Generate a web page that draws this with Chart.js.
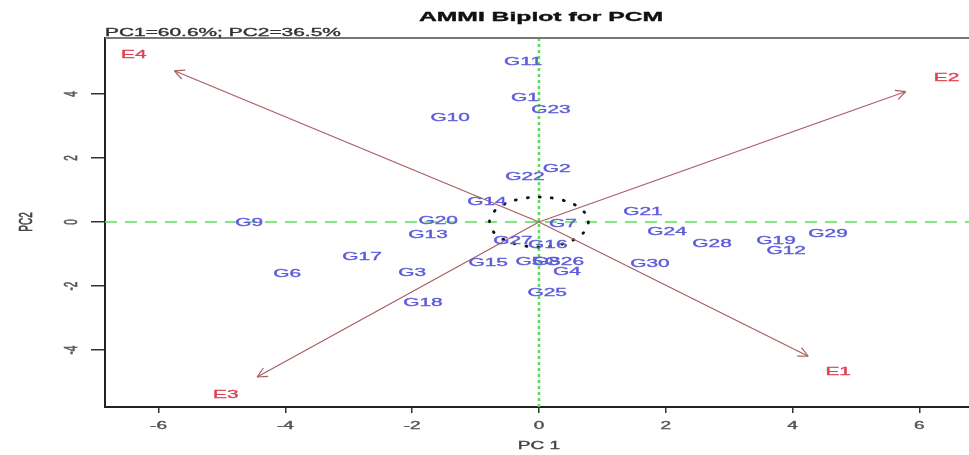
<!DOCTYPE html>
<html>
<head>
<meta charset="utf-8">
<script src="https://cdn.jsdelivr.net/npm/chart.js@4.4.0/dist/chart.umd.min.js"></script>
<style>
  html, body { margin: 0; padding: 0; overflow: hidden; background: #fff; }
</style>
</head>
<body>
<canvas id="biplot" width="985" height="455"></canvas>
<script>
// genotype scores on PC1 / PC2
const genotypes = ['G1','G2','G3','G4','G5','G6','G7','G8','G9','G10',
                   'G11','G12','G13','G14','G15','G16','G17','G18','G19','G20',
                   'G21','G22','G23','G24','G25','G26','G27','G28','G29','G30'];
const genoPC1 = [-0.22, 0.28, -2.00, 0.44, -0.15, -3.97, 0.38, 0.12, -4.57, -1.40,
                 -0.25, 3.90, -1.75, -0.82, -0.80, 0.14, -2.79, -1.83, 3.74, -1.59,
                 1.64, -0.22, 0.19, 2.02, 0.13, 0.40, -0.41, 2.73, 4.56, 1.75];
const genoPC2 = [3.90, 1.69, -1.56, -1.53, -1.22, -1.60, -0.03, -1.22, 0.00, 3.28,
                 5.03, -0.88, -0.38, 0.66, -1.25, -0.69, -1.06, -2.50, -0.56, 0.06,
                 0.34, 1.44, 3.53, -0.28, -2.19, -1.22, -0.56, -0.66, -0.34, -1.28];

// environment scores
const environments = ['E1', 'E2', 'E3', 'E4'];
const envPC1 = [4.72, 6.43, -4.94, -6.39];
const envPC2 = [-4.66, 4.53, -5.38, 5.25];

// axis ticks
const xTicks = [-6, -4, -2, 0, 2, 4, 6];
const yTicks = [-4, -2, 0, 2, 4];

const X_MIN = -6.845, X_MAX = 6.91;
const Y_MIN = -5.78, Y_MAX = 5.75;
const ARROW_SHRINK = 0.9;
const CIRCLE_R = 0.78;
const SX = 1.9; // the picture is stretched sideways

function drawText(ctx, text, x, y, font, color, align, rotate) {
    ctx.save();
    ctx.font = font;
    ctx.fillStyle = color;
    ctx.strokeStyle = color;
    ctx.lineWidth = 0.35;
    ctx.textAlign = align || 'center';
    ctx.textBaseline = 'alphabetic';
    const size = parseFloat(font.match(/(\d+(\.\d+)?)px/)[1]);
    ctx.translate(x, y);
    ctx.scale(SX, 1);
    if (rotate) ctx.rotate(-Math.PI / 2);
    ctx.fillText(text, 0, size * 0.36);
    ctx.strokeText(text, 0, size * 0.36);
    ctx.restore();
}

const decor = {
    id: 'decor',
    beforeDatasetsDraw(chart) {
        const { ctx, chartArea: a, scales: { x, y } } = chart;
        const x0 = x.getPixelForValue(0), y0 = y.getPixelForValue(0);
        ctx.save();
        ctx.beginPath();
        ctx.rect(a.left, a.top, a.right - a.left, a.bottom - a.top);
        ctx.clip();

        // zero lines
        ctx.strokeStyle = '#5ade5a';
        ctx.lineWidth = 1.5;
        ctx.setLineDash([12, 8]);
        ctx.beginPath();
        ctx.moveTo(a.left, y0);
        ctx.lineTo(a.right, y0);
        ctx.stroke();
        ctx.lineWidth = 2.5;
        ctx.setLineDash([3, 3]);
        ctx.beginPath();
        ctx.moveTo(x0, a.top);
        ctx.lineTo(x0, a.bottom);
        ctx.stroke();

        // dotted circle round the origin
        const rx = x.getPixelForValue(CIRCLE_R) - x0;
        const ry = y0 - y.getPixelForValue(CIRCLE_R);
        ctx.strokeStyle = '#111';
        ctx.lineWidth = 2.8;
        ctx.lineCap = 'round';
        ctx.setLineDash([1, 11]);
        ctx.beginPath();
        ctx.ellipse(x0, y0, rx, ry, 0, 0, Math.PI * 2);
        ctx.stroke();
        ctx.restore();
    },
    afterDatasetsDraw(chart) {
        const { ctx, chartArea: a, scales: { x, y } } = chart;
        const x0 = x.getPixelForValue(0), y0 = y.getPixelForValue(0);

        // arrow heads
        ctx.save();
        ctx.strokeStyle = '#a85e62';
        ctx.lineWidth = 1.2;
        envPC1.forEach((v, i) => {
            const px = x.getPixelForValue(v * ARROW_SHRINK);
            const py = y.getPixelForValue(envPC2[i] * ARROW_SHRINK);
            const ang = Math.atan2(py - y0, px - x0);
            ctx.beginPath();
            [-0.45, 0.45].forEach(d => {
                ctx.moveTo(px, py);
                ctx.lineTo(px - 11 * Math.cos(ang + d), py - 11 * Math.sin(ang + d));
            });
            ctx.stroke();
        });
        ctx.restore();

        // genotype and environment labels
        const gMeta = chart.getDatasetMeta(chart.data.datasets.length - 2);
        gMeta.data.forEach((pt, i) => {
            drawText(ctx, genotypes[i], pt.x, pt.y, '11px "Liberation Sans"', '#5c5cdc');
        });
        const eMeta = chart.getDatasetMeta(chart.data.datasets.length - 1);
        eMeta.data.forEach((pt, i) => {
            drawText(ctx, environments[i], pt.x, pt.y, '11px "Liberation Sans"', '#e04050');
        });

        // top frame line
        ctx.save();
        ctx.strokeStyle = '#777';
        ctx.lineWidth = 2;
        ctx.beginPath();
        ctx.moveTo(a.left, a.top);
        ctx.lineTo(chart.width, a.top);
        ctx.stroke();
        ctx.restore();

        // tick labels
        xTicks.forEach(v => {
            drawText(ctx, String(v), x.getPixelForValue(v), 425, '10px "Liberation Sans"', '#555');
        });
        yTicks.forEach(v => {
            drawText(ctx, String(v), 70, y.getPixelForValue(v), '10px "Liberation Sans"', '#555', 'center', true);
        });

        // titles
        drawText(ctx, 'AMMI Biplot for PCM', 541, 16, 'bold 13px "Liberation Sans"', '#111');
        drawText(ctx, 'PC1=60.6%; PC2=36.5%', a.left, 32, '11px "Liberation Sans"', '#333', 'left');
        drawText(ctx, 'PC 1', x0, 445, '10px "Liberation Sans"', '#444');
        drawText(ctx, 'PC2', 25, y0, '10px "Liberation Sans"', '#444', 'center', true);
    }
};

const arrowSets = environments.map((e, i) => ({
    label: e,
    data: [{ x: 0, y: 0 }, { x: envPC1[i] * ARROW_SHRINK, y: envPC2[i] * ARROW_SHRINK }],
    showLine: true,
    borderColor: '#a85e62',
    borderWidth: 1.2,
    pointRadius: 0
}));

new Chart('biplot', {
    type: 'scatter',
    data: {
        datasets: [
            ...arrowSets,
            {
                label: 'Genotypes',
                data: genoPC1.map((v, i) => ({ x: v, y: genoPC2[i] })),
                pointRadius: 0
            },
            {
                label: 'Environments',
                data: envPC1.map((v, i) => ({ x: v, y: envPC2[i] })),
                pointRadius: 0
            }
        ]
    },
    options: {
        responsive: false,
        animation: false,
        events: [],
        layout: { padding: { top: 38, right: 8, left: 0, bottom: 0 } },
        plugins: { legend: { display: false }, tooltip: { enabled: false }, title: { display: false } },
        scales: {
            x: {
                type: 'linear',
                min: X_MIN,
                max: X_MAX,
                afterBuildTicks: s => { s.ticks = xTicks.map(v => ({ value: v })); },
                afterFit: s => { s.height = 48; },
                grid: { drawOnChartArea: false, drawTicks: true, tickLength: 6, color: '#333', lineWidth: 1.5 },
                border: { color: '#222', width: 2 },
                ticks: { display: false }
            },
            y: {
                type: 'linear',
                min: Y_MIN,
                max: Y_MAX,
                afterBuildTicks: s => { s.ticks = yTicks.map(v => ({ value: v })); },
                afterFit: s => { s.width = 105; },
                grid: { drawOnChartArea: false, drawTicks: true, tickLength: 14, color: '#333', lineWidth: 1.5 },
                border: { color: '#222', width: 2 },
                ticks: { display: false }
            }
        }
    },
    plugins: [decor]
});
</script>
</body>
</html>
